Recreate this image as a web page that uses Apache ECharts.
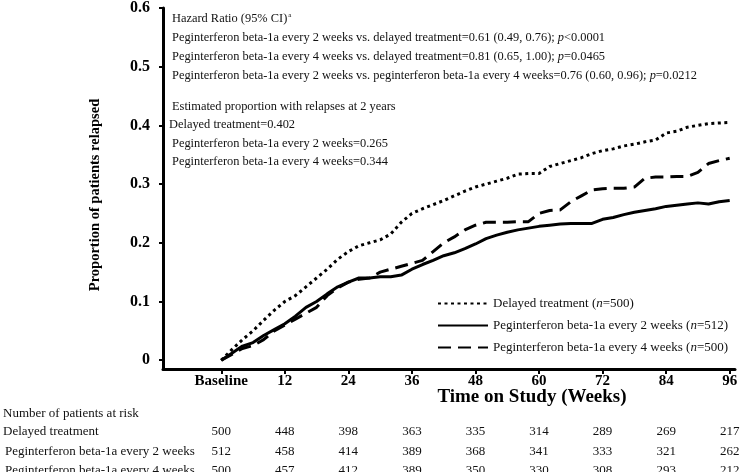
<!DOCTYPE html>
<html>
<head>
<meta charset="utf-8">
<script src="https://cdn.jsdelivr.net/npm/echarts@6/dist/echarts.min.js"></script>
<style>
html,body{margin:0;padding:0;background:#fff;}
#chart{width:743px;height:472px;}
</style>
</head>
<body>
<div id="chart"></div>
<script>
// ---- data ----
const weeks = [0,2,4,6,8,10,12,14,16,18,20,22,24,26,28,30,32,34,36,38,40,42,44,46,48,50,52,54,56,58,60,62,64,66,68,70,72,74,76,78,80,82,84,86,88,90,92,94,96];
const delayed = [0,0.018,0.035,0.05,0.068,0.085,0.10,0.11,0.125,0.14,0.155,0.172,0.185,0.195,0.20,0.205,0.215,0.235,0.25,0.258,0.265,0.272,0.28,0.288,0.295,0.30,0.305,0.31,0.317,0.318,0.318,0.33,0.335,0.34,0.345,0.352,0.357,0.36,0.365,0.368,0.372,0.375,0.387,0.39,0.397,0.40,0.403,0.404,0.405];
const q2w = [0,0.012,0.024,0.03,0.042,0.052,0.062,0.075,0.09,0.1,0.113,0.125,0.133,0.14,0.14,0.142,0.142,0.145,0.155,0.163,0.17,0.178,0.183,0.19,0.198,0.207,0.213,0.218,0.222,0.225,0.228,0.23,0.232,0.233,0.233,0.233,0.24,0.243,0.248,0.252,0.255,0.258,0.262,0.264,0.266,0.268,0.266,0.27,0.272];
const q4w = [0,0.01,0.02,0.025,0.035,0.05,0.06,0.07,0.08,0.09,0.11,0.123,0.133,0.138,0.14,0.15,0.155,0.16,0.165,0.17,0.185,0.2,0.21,0.222,0.23,0.235,0.235,0.235,0.236,0.236,0.25,0.255,0.256,0.27,0.28,0.29,0.292,0.293,0.293,0.295,0.31,0.312,0.312,0.313,0.313,0.32,0.335,0.34,0.344];

const seriesNames = ['Delayed treatment','Peginterferon beta-1a every 2 weeks','Peginterferon beta-1a every 4 weeks'];
const seriesN = [500,512,500];

const xTicks = [0,12,24,36,48,60,72,84,96];
const yTicks = [0,0.1,0.2,0.3,0.4,0.5,0.6];

const riskDelayed = [500,448,398,363,335,314,289,269,217];
const riskQ2W = [512,458,414,389,368,341,333,321,262];
const riskQ4W = [500,457,412,389,350,330,308,293,212];

const hazardLines = [
  ['Peginterferon beta-1a every 2 weeks vs. delayed treatment=0.61 (0.49, 0.76); ','p','<0.0001'],
  ['Peginterferon beta-1a every 4 weeks vs. delayed treatment=0.81 (0.65, 1.00); ','p','=0.0465'],
  ['Peginterferon beta-1a every 2 weeks vs. peginterferon beta-1a every 4 weeks=0.76 (0.60, 0.96); ','p','=0.0212']
];
const estimateLines = ['Delayed treatment=0.402','Peginterferon beta-1a every 2 weeks=0.265','Peginterferon beta-1a every 4 weeks=0.344'];

// ---- chart ----
const SERIF = '"Liberation Serif","Times New Roman",serif';
const ANN = 12.4;
const chart = echarts.init(document.getElementById('chart'), null, {renderer:'canvas'});

function riskAxis(arr, offset){
  return {
    type:'value', gridIndex:0, position:'bottom', offset:offset, min:-11, max:97,
    axisLine:{show:false}, axisTick:{show:false}, splitLine:{show:false},
    axisLabel:{customValues:xTicks, margin:0, fontFamily:SERIF, fontSize:13, color:'#111',
      formatter:v => { const i = xTicks.indexOf(Math.round(v)); return i>=0 ? String(arr[i]) : ''; }}
  };
}

const graphics = [];
graphics.push({type:'text', left:172, top:12, style:{
  text:'Hazard Ratio (95% CI){s|a}', fontFamily:SERIF, fontSize:ANN, fill:'#111',
  rich:{s:{fontSize:7, fontFamily:SERIF, verticalAlign:'top', padding:[0,0,6,1]}}
}});
hazardLines.forEach((l,i)=>{
  graphics.push({type:'text', left:172, top:32+i*18.7, style:{
    text:l[0]+'{i|'+l[1]+'}'+l[2], fontFamily:SERIF, fontSize:ANN, fill:'#111',
    rich:{i:{fontStyle:'italic', fontFamily:SERIF, fontSize:ANN}}
  }});
});
graphics.push({type:'text', left:172, top:101, style:{text:'Estimated proportion with relapses at 2 years', fontFamily:SERIF, fontSize:ANN, fill:'#111'}});
estimateLines.forEach((l,i)=>{
  graphics.push({type:'text', left:i===0?169:172, top:119+i*18.5, style:{text:l, fontFamily:SERIF, fontSize:ANN, fill:'#111'}});
});
graphics.push({type:'text', x:532, y:397, style:{text:'Time on Study (Weeks)', fontFamily:SERIF, fontSize:19, fontWeight:'bold', fill:'#000', align:'center', verticalAlign:'middle'}});
graphics.push({type:'text', x:95, y:195, rotation:Math.PI/2, style:{text:'Proportion of patients relapsed', fontFamily:SERIF, fontSize:14.5, fontWeight:'bold', fill:'#000', align:'center', verticalAlign:'middle'}});
graphics.push({type:'text', left:3, top:407, style:{text:'Number of patients at risk', fontFamily:SERIF, fontSize:13, fill:'#111'}});
graphics.push({type:'text', left:3, top:425, style:{text:seriesNames[0], fontFamily:SERIF, fontSize:13, fill:'#111'}});
graphics.push({type:'text', left:5, top:445, style:{text:seriesNames[1], fontFamily:SERIF, fontSize:13, fill:'#111'}});
graphics.push({type:'text', left:5, top:464, style:{text:seriesNames[2], fontFamily:SERIF, fontSize:13, fill:'#111'}});

const lineStyles = [
  {color:'#000', width:3, type:[3,3.5]},
  {color:'#000', width:3, type:'solid'},
  {color:'#000', width:3, type:[13,7]}
];
const dataSets = [delayed, q2w, q4w];

const option = {
  animation:false,
  backgroundColor:'#fff',
  grid:{left:163, right:8, top:8, bottom:103, containLabel:false, outerBoundsMode:'none'},
  legend:{
    orient:'vertical', left:432, top:292, itemWidth:50, itemHeight:14, itemGap:9,
    data:seriesNames,
    itemStyle:{opacity:0},
    textStyle:{fontFamily:SERIF, fontSize:13, color:'#111', rich:{i:{fontStyle:'italic', fontFamily:SERIF, fontSize:13, color:'#111'}}},
    formatter:name => { const i = seriesNames.indexOf(name); return name+' ({i|n}='+seriesN[i]+')'; }
  },
  xAxis:[
    {type:'value', min:-11, max:97,
      axisLine:{show:true, onZero:false, lineStyle:{color:'#000', width:3}},
      axisTick:{show:true, customValues:xTicks, length:5, lineStyle:{color:'#000', width:2}},
      splitLine:{show:false},
      axisLabel:{customValues:xTicks, margin:5, fontFamily:SERIF, fontSize:15, fontWeight:'bold', color:'#000',
        formatter:v => Math.round(v)===0 ? 'Baseline' : String(Math.round(v))}
    },
    riskAxis(riskDelayed, 56),
    riskAxis(riskQ2W, 76),
    riskAxis(riskQ4W, 95)
  ],
  yAxis:{type:'value', min:-0.015, max:0.6,
    axisLine:{show:true, onZero:false, lineStyle:{color:'#000', width:3}},
    axisTick:{show:true, customValues:yTicks, length:4, lineStyle:{color:'#000', width:2}},
    splitLine:{show:false},
    axisLabel:{customValues:yTicks, margin:13, fontFamily:SERIF, fontSize:16, fontWeight:'bold', color:'#000',
      formatter:v => { const r = Math.round(v*10)/10; return r===0 ? '0' : r.toFixed(1); }}
  },
  series: seriesNames.map((name,k)=>({
    name:name, type:'line', showSymbol:false, symbol:'none',
    xAxisIndex:0, yAxisIndex:0,
    lineStyle:lineStyles[k], itemStyle:{color:'#000'},
    data: weeks.map((w,i)=>[w, dataSets[k][i]])
  })),
  graphic:graphics
};
chart.setOption(option);
</script>
</body>
</html>
